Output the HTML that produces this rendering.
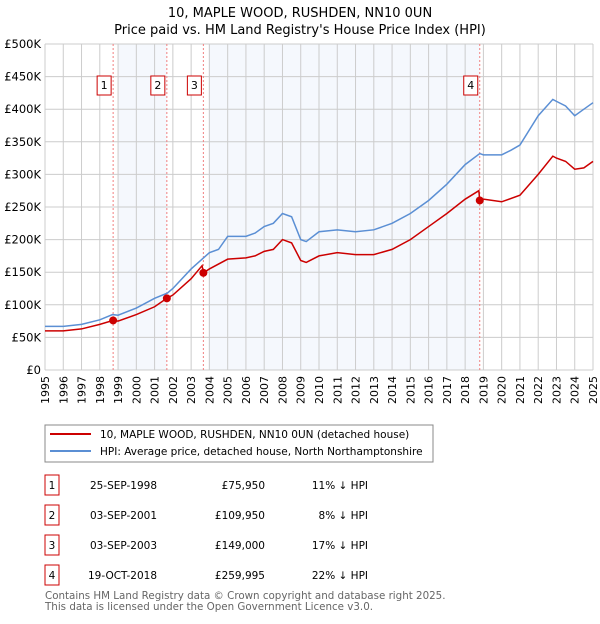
<!DOCTYPE html>
<html><head><meta charset="utf-8"><style>
body{margin:0;background:#fff;font-family:"DejaVu Sans","Liberation Sans",sans-serif;}
svg text{font-family:"DejaVu Sans","Liberation Sans",sans-serif;}
</style></head><body>
<svg id="c" width="600" height="620" xmlns="http://www.w3.org/2000/svg">
<text x="300" y="17" text-anchor="middle" font-size="13">10, MAPLE WOOD, RUSHDEN, NN10 0UN</text>
<text x="300" y="34" text-anchor="middle" font-size="13">Price paid vs. HM Land Registry's House Price Index (HPI)</text>
<g id="plot"></g>
<rect x="45" y="425" width="388" height="37" fill="#fff" stroke="#888"/>
<line x1="50" y1="434" x2="91" y2="434" stroke="#cc0000" stroke-width="2"/>
<text x="100" y="438" font-size="10.5">10, MAPLE WOOD, RUSHDEN, NN10 0UN (detached house)</text>
<line x1="50" y1="451" x2="91" y2="451" stroke="#5b8fd4" stroke-width="2"/>
<text x="100" y="455" font-size="10.5">HPI: Average price, detached house, North Northamptonshire</text>
<g id="tbl" font-size="10.5"></g>
<text x="45" y="599" font-size="10.3" fill="#666">Contains HM Land Registry data © Crown copyright and database right 2025.</text>
<text x="45" y="610" font-size="10.3" fill="#666">This data is licensed under the Open Government Licence v3.0.</text>
</svg>
<script>
const hpiYears=[1995,1996,1997,1998,1998.7,1999,2000,2001,2001.7,2002,2003,2004,2004.5,2005,2006,2006.5,2007,2007.5,2008,2008.5,2009,2009.3,2010,2011,2012,2013,2014,2015,2016,2017,2018,2018.8,2019,2020,2020.5,2021,2022,2022.8,2023,2023.5,2024,2024.5,2025];
const hpiValues=[67,67,70,77,85,84,95,110,118,125,155,180,185,205,205,210,220,225,240,235,200,197,212,215,212,215,225,240,260,285,315,332,330,330,337,345,390,415,412,405,390,400,410];
const propYears=[1995,1996,1997,1998,1998.73,1999,2000,2001,2001.67,2002,2003,2003.6,2003.67,2004,2005,2006,2006.5,2007,2007.5,2008,2008.5,2009,2009.3,2010,2011,2012,2013,2014,2015,2016,2017,2018,2018.75,2018.8,2019,2020,2021,2022,2022.8,2023,2023.5,2024,2024.5,2025];
const propValues=[60,60,63,70,76,75,85,97,110,115,140,160,149,155,170,172,175,182,185,200,195,168,165,175,180,177,177,185,200,220,240,262,275,260,262,258,268,300,328,325,320,308,310,320];
const saleLabels=["1","2","3","4"];
const saleYears=[1998.73,2001.67,2003.67,2018.8];
const salePrices=[75.95,109.95,149,259.995];
const saleDates=["25-SEP-1998","03-SEP-2001","03-SEP-2003","19-OCT-2018"];
const salePriceText=["£75,950","£109,950","£149,000","£259,995"];
const saleHpiText=["11% ↓ HPI","8% ↓ HPI","17% ↓ HPI","22% ↓ HPI"];
const yTicks=[0,50,100,150,200,250,300,350,400,450,500];
const yTickLabels=["£0","£50K","£100K","£150K","£200K","£250K","£300K","£350K","£400K","£450K","£500K"];
const NS="http://www.w3.org/2000/svg";
const X0=45,X1=593,Y0=370,Y1=44;
const xs=y=>X0+(y-1995)/30*(X1-X0);
const ys=v=>Y0-v/500*(Y0-Y1);
const g=document.getElementById('plot');
function mk(t,a,p){const e=document.createElementNS(NS,t);for(const k in a)e.setAttribute(k,a[k]);(p||g).appendChild(e);return e;}
let e=mk('rect',{x:X0,y:Y1,width:X1-X0,height:Y0-Y1,fill:'#fff'});


[[0,1],[2,3]].forEach(([a,b],i)=>{const r=mk('rect',{x:xs(saleYears[a])+5,y:Y1,width:xs(saleYears[b])-xs(saleYears[a])-5,height:Y0-Y1,fill:'#eef3fc',opacity:0.6});

});
for(let yr=1995;yr<=2025;yr++){const l=mk('line',{x1:xs(yr),x2:xs(yr),y1:Y1,y2:Y0,stroke:'#ccc'});


const t=mk('text',{x:0,y:0,'font-size':11,'text-anchor':'end',transform:`translate(${xs(yr)+4},${Y0+6}) rotate(-90)`});t.textContent=yr;

}
yTicks.forEach((v,i)=>{const l=mk('line',{x1:X0,x2:X1,y1:ys(v),y2:ys(v),stroke:'#ccc'});


const t=mk('text',{x:X0-4,y:ys(v)+4,'font-size':11.5,'text-anchor':'end'});t.textContent=yTickLabels[i];

});
saleYears.forEach((y,i)=>{const l=mk('line',{x1:xs(y),x2:xs(y),y1:Y1,y2:Y0,stroke:'#f08080','stroke-dasharray':'2,2'});


const b=mk('rect',{x:xs(y)-16,y:76,width:14,height:19,fill:'#fff',stroke:'#cc0000'});


const t=mk('text',{x:xs(y)-9,y:89,'font-size':11,'text-anchor':'middle'});t.textContent=saleLabels[i];

});
function line(xa,va,col,name){const p=mk('polyline',{points:xa.map((x,i)=>xs(x)+','+ys(va[i])).join(' '),fill:'none',stroke:col,'stroke-width':1.5});

}
line(hpiYears,hpiValues,'#5b8fd4','hpi-line');
line(propYears,propValues,'#cc0000','property-line');
saleYears.forEach((y,i)=>{const c=mk('circle',{cx:xs(y),cy:ys(salePrices[i]),r:4,fill:'#cc0000'});

});
const tb=document.getElementById('tbl');
saleLabels.forEach((s,i)=>{const cy=485+i*30;
const b=mk('rect',{x:45,y:cy-10,width:14,height:20,fill:'#fff',stroke:'#cc0000'},tb);


[[52,s,'middle','table-label'],[157,saleDates[i],'end','table-date'],[265,salePriceText[i],'end','table-price'],[368,saleHpiText[i],'end','table-hpi-diff']].forEach(([x,t,a,n])=>{const te=mk('text',{x:x,y:cy+4,'text-anchor':a},tb);te.textContent=t;

});});
</script>
</body></html>
